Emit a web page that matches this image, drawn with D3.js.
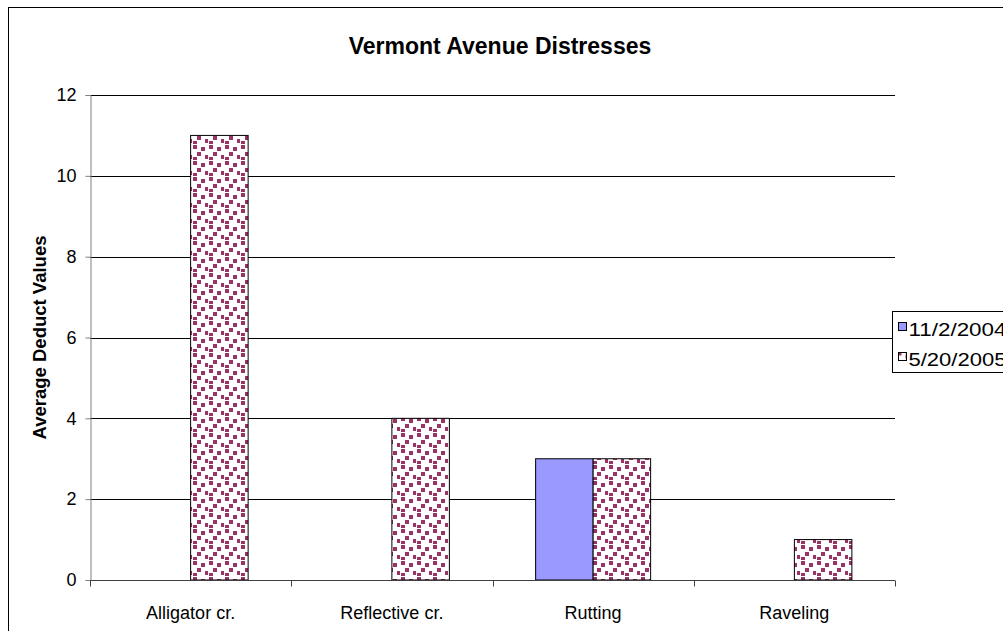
<!DOCTYPE html>
<html>
<head>
<meta charset="utf-8">
<script src="https://cdn.jsdelivr.net/npm/d3@7"></script>
<style>
  html, body { margin: 0; padding: 0; background: #fff; }
  svg { display: block; font-family: Arial, "Liberation Sans", sans-serif; }
</style>
</head>
<body>
<svg id="chart" width="1003" height="631"></svg>
<script>
// Vermont Avenue distress survey: average deduct values by distress type
const categories = ["Alligator cr.", "Reflective cr.", "Rutting", "Raveling"];
const seriesNames = ["11/2/2004", "5/20/2005"];
const values2004 = [0, 0, 3, 0];
const values2005 = [11, 4, 3, 1];
const yTicks = [0, 2, 4, 6, 8, 10, 12];

const svg = d3.select("#chart");
const W = 1003, H = 631;
const plot = { left: 90, right: 895, top: 95, bottom: 580 };

// Confetti fill for the second survey date
const defs = svg.append("defs");
const pat = defs.append("pattern")
  .attr("id", "confetti")
  .attr("patternUnits", "userSpaceOnUse")
  .attr("width", 16).attr("height", 16);
pat.append("rect").attr("width", 16).attr("height", 16).attr("fill", "#fff");
[[1, 1], [9, 3], [5, 8], [13, 11], [1, 13]].forEach(([x, y]) => {
  pat.append("rect").attr("x", x).attr("y", y).attr("width", 4).attr("height", 4).attr("fill", "#993366");
});

// Outer chart frame
svg.append("rect")
  .attr("x", 8.5).attr("y", 7.5)
  .attr("width", W + 20).attr("height", H + 20)
  .attr("fill", "#fff").attr("stroke", "#000").attr("stroke-width", 1);

const x = d3.scaleBand().domain(categories).range([plot.left, plot.right]).paddingInner(0).paddingOuter(0);
const y = d3.scaleLinear().domain([0, 12]).range([plot.bottom, plot.top]);

// Horizontal gridlines
svg.append("g").selectAll("line")
  .data(yTicks.filter(t => t > 0))
  .join("line")
  .attr("x1", plot.left).attr("x2", plot.right)
  .attr("y1", d => Math.round(y(d)) + 0.5).attr("y2", d => Math.round(y(d)) + 0.5)
  .attr("stroke", "#000").attr("stroke-width", 1);

// Bars: each category holds two bars with a 150% gap
const band = x.bandwidth();
const barW = band / 3.5;
const series = [
  { name: seriesNames[0], values: values2004, fill: "#9999ff" },
  { name: seriesNames[1], values: values2005, fill: "url(#confetti)" }
];
series.forEach((s, si) => {
  svg.append("g").selectAll("rect")
    .data(categories.map((c, i) => ({ c, v: s.values[i] })).filter(d => d.v > 0))
    .join("rect")
    .attr("x", d => x(d.c) + band * 0.75 / 3.5 + si * barW)
    .attr("y", d => y(d.v))
    .attr("width", barW)
    .attr("height", d => y(0) - y(d.v))
    .attr("fill", s.fill)
    .attr("stroke", "#000").attr("stroke-width", 1);
});

// Y axis
const yAxis = d3.axisLeft(y).tickValues(yTicks).tickSize(5).tickPadding(9);
const gy = svg.append("g").attr("transform", `translate(${plot.left + 0.5},0)`).call(yAxis);
gy.select(".domain").attr("stroke", "#808080");
gy.selectAll(".tick line").attr("stroke", "#808080");
gy.selectAll(".tick text").attr("font-size", 18).attr("fill", "#000");

// X axis with ticks at category boundaries
const gx = svg.append("g").attr("transform", `translate(0,${plot.bottom + 0.5})`);
gx.append("line").attr("x1", plot.left).attr("x2", plot.right).attr("stroke", "#404040");
gx.selectAll(".xt")
  .data(categories.map(c => x(c)).concat([plot.right]))
  .join("line")
  .attr("x1", d => Math.round(d) + 0.5).attr("x2", d => Math.round(d) + 0.5)
  .attr("y1", 0).attr("y2", 6).attr("stroke", "#404040");
gx.selectAll("text")
  .data(categories)
  .join("text")
  .attr("x", d => x(d) + band / 2)
  .attr("y", 38)
  .attr("text-anchor", "middle")
  .attr("font-size", 18)
  .text(d => d);

// Titles
svg.append("text")
  .attr("x", 500).attr("y", 54)
  .attr("text-anchor", "middle")
  .attr("font-size", 23).attr("font-weight", "bold")
  .text("Vermont Avenue Distresses");

svg.append("text")
  .attr("transform", `translate(46,${(plot.top + plot.bottom) / 2}) rotate(-90)`)
  .attr("text-anchor", "middle")
  .attr("font-size", 18.5).attr("font-weight", "bold")
  .text("Average Deduct Values");

// Legend (runs off the right edge of the frame)
const lg = svg.append("g").attr("transform", "translate(892.5,311.5)");
lg.append("rect").attr("width", 160).attr("height", 61).attr("fill", "#fff").attr("stroke", "#000");
series.forEach((s, i) => {
  const top = 11 + i * 30;
  lg.append("rect").attr("x", 6).attr("y", top).attr("width", 8).attr("height", 8)
    .attr("fill", s.fill).attr("stroke", "#000");
  lg.append("text").attr("x", 16).attr("y", top + 13.5)
    .attr("font-size", 19)
    .attr("textLength", 98).attr("lengthAdjust", "spacingAndGlyphs")
    .text(s.name);
});
</script>
</body>
</html>
